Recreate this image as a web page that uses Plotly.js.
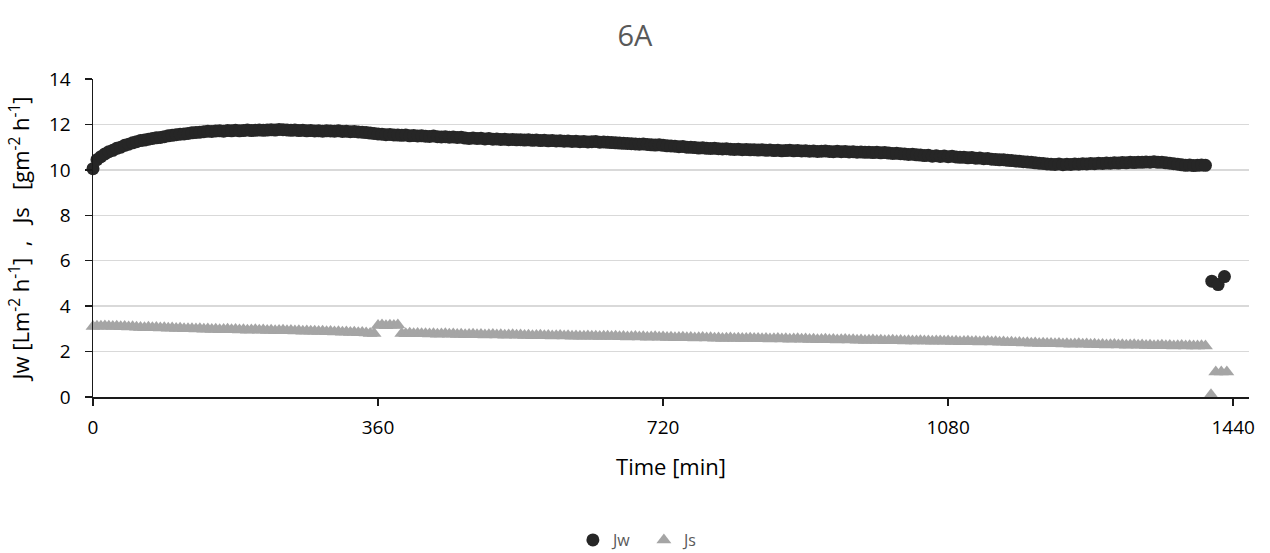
<!DOCTYPE html>
<html>
<head>
<meta charset="utf-8">
<script src="https://cdn.plot.ly/plotly-3.0.1.min.js"></script>
<style>
  html, body { margin: 0; padding: 0; background: #ffffff; }
  #chart { width: 1270px; height: 553px; }
</style>
</head>
<body>
<div id="chart"></div>
<script>
// Sampling times (minutes), one row per hour of the run
const timeMin = [
  0, 5, 10, 15, 20, 25, 30, 35, 40, 45, 50, 55,
  60, 65, 70, 75, 80, 85, 90, 95, 100, 105, 110, 115,
  120, 125, 130, 135, 140, 145, 150, 155, 160, 165, 170, 175,
  180, 185, 190, 195, 200, 205, 210, 215, 220, 225, 230, 235,
  240, 245, 250, 255, 260, 265, 270, 275, 280, 285, 290, 295,
  300, 305, 310, 315, 320, 325, 330, 335, 340, 345, 350, 355,
  360, 365, 370, 375, 380, 385, 390, 395, 400, 405, 410, 415,
  420, 425, 430, 435, 440, 445, 450, 455, 460, 465, 470, 475,
  480, 485, 490, 495, 500, 505, 510, 515, 520, 525, 530, 535,
  540, 545, 550, 555, 560, 565, 570, 575, 580, 585, 590, 595,
  600, 605, 610, 615, 620, 625, 630, 635, 640, 645, 650, 655,
  660, 665, 670, 675, 680, 685, 690, 695, 700, 705, 710, 715,
  720, 725, 730, 735, 740, 745, 750, 755, 760, 765, 770, 775,
  780, 785, 790, 795, 800, 805, 810, 815, 820, 825, 830, 835,
  840, 845, 850, 855, 860, 865, 870, 875, 880, 885, 890, 895,
  900, 905, 910, 915, 920, 925, 930, 935, 940, 945, 950, 955,
  960, 965, 970, 975, 980, 985, 990, 995, 1000, 1005, 1010, 1015,
  1020, 1025, 1030, 1035, 1040, 1045, 1050, 1055, 1060, 1065, 1070, 1075,
  1080, 1085, 1090, 1095, 1100, 1105, 1110, 1115, 1120, 1125, 1130, 1135,
  1140, 1145, 1150, 1155, 1160, 1165, 1170, 1175, 1180, 1185, 1190, 1195,
  1200, 1205, 1210, 1215, 1220, 1225, 1230, 1235, 1240, 1245, 1250, 1255,
  1260, 1265, 1270, 1275, 1280, 1285, 1290, 1295, 1300, 1305, 1310, 1315,
  1320, 1325, 1330, 1335, 1340, 1345, 1350, 1355, 1360, 1365, 1370, 1375,
  1380, 1385, 1390, 1395, 1400, 1405
];

// Water flux Jw [L m-2 h-1]
const jw = [
  10.05, 10.45, 10.58, 10.70, 10.80, 10.86, 10.95, 11.00, 11.08, 11.13, 11.19, 11.24,
  11.29, 11.31, 11.35, 11.38, 11.41, 11.43, 11.46, 11.50, 11.52, 11.55, 11.57, 11.58,
  11.60, 11.63, 11.65, 11.66, 11.68, 11.70, 11.69, 11.71, 11.72, 11.70, 11.73, 11.72,
  11.74, 11.72, 11.73, 11.75, 11.73, 11.74, 11.76, 11.74, 11.75, 11.77, 11.75, 11.78,
  11.77, 11.76, 11.74, 11.75, 11.73, 11.74, 11.72, 11.73, 11.71, 11.72, 11.70, 11.72,
  11.71, 11.70, 11.72, 11.69, 11.70, 11.68, 11.69, 11.67, 11.66, 11.64, 11.62, 11.60,
  11.58, 11.57, 11.55, 11.56, 11.54, 11.53, 11.52, 11.53, 11.50, 11.51, 11.49, 11.50,
  11.48, 11.47, 11.49, 11.46, 11.45, 11.46, 11.44, 11.45, 11.43, 11.44, 11.40, 11.38,
  11.40, 11.38, 11.39, 11.36, 11.38, 11.35, 11.36, 11.34, 11.35, 11.33, 11.34, 11.32,
  11.33, 11.31, 11.32, 11.30, 11.31, 11.29, 11.30, 11.28, 11.29, 11.27, 11.28, 11.26,
  11.27, 11.25, 11.26, 11.24, 11.25, 11.23, 11.24, 11.25, 11.22, 11.23, 11.21, 11.20,
  11.19, 11.18, 11.17, 11.16, 11.15, 11.14, 11.13, 11.14, 11.12, 11.10, 11.09, 11.10,
  11.08, 11.06, 11.05, 11.04, 11.02, 11.03, 11.00, 10.99, 10.98, 10.96, 10.97, 10.95,
  10.94, 10.95, 10.93, 10.92, 10.93, 10.91, 10.90, 10.91, 10.89, 10.90, 10.88, 10.89,
  10.87, 10.88, 10.86, 10.87, 10.85, 10.86, 10.84, 10.85, 10.86, 10.84, 10.85, 10.83,
  10.84, 10.82, 10.83, 10.81, 10.82, 10.83, 10.81, 10.80, 10.82, 10.80, 10.81, 10.79,
  10.80, 10.78, 10.79, 10.77, 10.78, 10.76, 10.77, 10.75, 10.76, 10.74, 10.72, 10.73,
  10.71, 10.70, 10.68, 10.69, 10.66, 10.65, 10.63, 10.64, 10.60, 10.62, 10.59, 10.61,
  10.58, 10.60, 10.57, 10.55, 10.56, 10.53, 10.54, 10.51, 10.52, 10.49, 10.50, 10.47,
  10.46, 10.44, 10.45, 10.42, 10.41, 10.39, 10.38, 10.36, 10.35, 10.33, 10.31, 10.29,
  10.28, 10.26, 10.25, 10.24, 10.26, 10.23, 10.25, 10.24, 10.26, 10.25, 10.27, 10.26,
  10.28, 10.27, 10.29, 10.28, 10.30, 10.29, 10.31, 10.30, 10.32, 10.31, 10.33, 10.32,
  10.34, 10.33, 10.35, 10.34, 10.36, 10.33, 10.34, 10.31, 10.29, 10.27, 10.25, 10.22,
  10.20, 10.21, 10.19, 10.20, 10.21, 10.20
];

// Solute flux Js [g m-2 h-1]
const js = [
  3.10, 3.12, 3.11, 3.13, 3.12, 3.10, 3.11, 3.09, 3.10, 3.08, 3.09, 3.07,
  3.06, 3.05, 3.07, 3.05, 3.06, 3.04, 3.05, 3.03, 3.04, 3.02, 3.03, 3.01,
  3.00, 3.01, 2.99, 3.00, 2.98, 2.99, 2.97, 2.98, 2.96, 2.97, 2.98, 2.96,
  2.97, 2.95, 2.96, 2.94, 2.95, 2.96, 2.94, 2.95, 2.93, 2.94, 2.92, 2.93,
  2.94, 2.92, 2.93, 2.91, 2.92, 2.90, 2.91, 2.89, 2.90, 2.88, 2.89, 2.87,
  2.88, 2.86, 2.87, 2.85, 2.86, 2.84, 2.85, 2.83, 2.84, 2.82, 2.80, 2.80,
  3.15, 3.17, 3.14, 3.16, 3.15, 3.17, 2.80, 2.79, 2.81, 2.79, 2.80, 2.78,
  2.79, 2.77, 2.78, 2.76, 2.77, 2.78, 2.76, 2.77, 2.75, 2.76, 2.74, 2.75,
  2.76, 2.74, 2.75, 2.73, 2.74, 2.75, 2.73, 2.74, 2.72, 2.73, 2.74, 2.72,
  2.73, 2.71, 2.72, 2.70, 2.71, 2.72, 2.70, 2.71, 2.69, 2.70, 2.71, 2.69,
  2.70, 2.68, 2.69, 2.67, 2.68, 2.69, 2.67, 2.68, 2.66, 2.67, 2.68, 2.66,
  2.67, 2.65, 2.66, 2.64, 2.65, 2.66, 2.64, 2.65, 2.63, 2.64, 2.65, 2.63,
  2.64, 2.62, 2.63, 2.61, 2.62, 2.63, 2.61, 2.62, 2.60, 2.61, 2.62, 2.60,
  2.61, 2.59, 2.60, 2.58, 2.59, 2.60, 2.58, 2.59, 2.57, 2.58, 2.59, 2.57,
  2.58, 2.56, 2.57, 2.55, 2.56, 2.57, 2.55, 2.56, 2.54, 2.55, 2.56, 2.54,
  2.55, 2.53, 2.54, 2.52, 2.53, 2.54, 2.52, 2.53, 2.51, 2.52, 2.53, 2.51,
  2.52, 2.50, 2.51, 2.49, 2.50, 2.51, 2.49, 2.50, 2.48, 2.49, 2.50, 2.48,
  2.49, 2.47, 2.48, 2.46, 2.47, 2.48, 2.46, 2.47, 2.45, 2.46, 2.47, 2.45,
  2.46, 2.44, 2.45, 2.43, 2.44, 2.45, 2.43, 2.44, 2.42, 2.43, 2.44, 2.42,
  2.43, 2.41, 2.42, 2.40, 2.41, 2.39, 2.40, 2.38, 2.39, 2.37, 2.38, 2.36,
  2.37, 2.35, 2.36, 2.34, 2.35, 2.33, 2.34, 2.32, 2.33, 2.34, 2.32, 2.33,
  2.31, 2.32, 2.30, 2.31, 2.29, 2.30, 2.31, 2.29, 2.30, 2.28, 2.29, 2.30,
  2.28, 2.29, 2.27, 2.28, 2.26, 2.27, 2.28, 2.26, 2.27, 2.25, 2.26, 2.27,
  2.25, 2.26, 2.24, 2.25, 2.26, 2.25
];

// Final readings after the feed change
const jwTailTime = [1413, 1421, 1429];
const jwTail = [5.10, 4.95, 5.30];
const jsTailTime = [1412, 1418, 1425, 1432];
const jsTail = [0.10, 1.10, 1.10, 1.10];

const xTicks = [0, 360, 720, 1080, 1440];
const yTicks = [0, 2, 4, 6, 8, 10, 12, 14];

const FONT = "'Open Sans', 'Liberation Sans', sans-serif";

const traces = [
  {
    name: 'Jw',
    type: 'scatter',
    mode: 'markers',
    x: timeMin.concat(jwTailTime),
    y: jw.concat(jwTail),
    cliponaxis: false,
    marker: { symbol: 'circle', size: 13, color: '#262626' }
  },
  {
    name: 'Js',
    type: 'scatter',
    mode: 'markers',
    x: timeMin.concat(jsTailTime),
    y: js.concat(jsTail),
    cliponaxis: false,
    marker: { symbol: 'triangle-up', size: 13, color: '#a5a5a5' }
  }
];

const layout = {
  width: 1270,
  height: 553,
  paper_bgcolor: '#ffffff',
  plot_bgcolor: '#ffffff',
  margin: { l: 93, r: 21, t: 79, b: 156 },
  font: { family: FONT, size: 19, color: '#000000' },
  title: {
    text: '6A',
    font: { family: FONT, size: 29, color: '#595959' },
    x: 0.5, xanchor: 'center',
    xref: 'container',
    yref: 'container', y: 1 - 36 / 553, yanchor: 'middle'
  },
  xaxis: {
    range: [0, 1460],
    automargin: false,
    tickvals: xTicks,
    ticktext: xTicks.map(String),
    ticks: 'outside', ticklen: 7, tickwidth: 1.5, tickcolor: '#1a1a1a',
    ticklabelstandoff: 6,
    showline: true, linecolor: '#1a1a1a', linewidth: 1.5,
    showgrid: false, zeroline: false,
    tickfont: { family: FONT, size: 19, color: '#000000' },
    title: { text: 'Time [min]', font: { family: FONT, size: 22, color: '#000000' }, standoff: 20 }
  },
  yaxis: {
    range: [0, 14],
    automargin: false,
    tickvals: yTicks,
    ticktext: yTicks.map(String),
    ticks: 'outside', ticklen: 7, tickwidth: 1.5, tickcolor: '#1a1a1a',
    ticklabelstandoff: 10,
    showline: true, linecolor: '#1a1a1a', linewidth: 1.5,
    showgrid: true, gridcolor: '#d9d9d9', gridwidth: 1.5,
    zeroline: false,
    tickfont: { family: FONT, size: 19, color: '#000000' },
    title: {
      text: 'Jw [Lm<sup>-2</sup> h<sup>-1</sup>]  ,   Js   [gm<sup>-2</sup> h<sup>-1</sup>]',
      font: { family: FONT, size: 22, color: '#000000' },
      standoff: 13
    }
  },
  showlegend: true,
  legend: {
    orientation: 'h',
    xref: 'container', yref: 'container',
    x: 0.507, xanchor: 'center',
    y: 13 / 553, yanchor: 'middle',
    font: { family: FONT, size: 16, color: '#595959' },
    itemwidth: 30,
    entrywidth: 26,
    tracegroupgap: 0
  }
};

Plotly.newPlot('chart', traces, layout, { displayModeBar: false, staticPlot: true });
</script>
</body>
</html>
